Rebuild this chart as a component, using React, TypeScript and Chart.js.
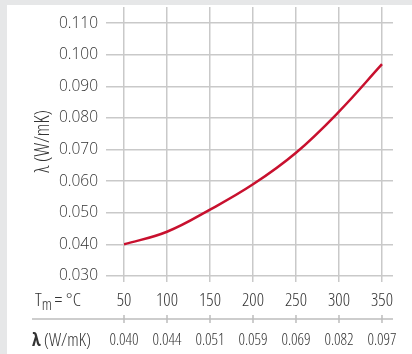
import React, { useEffect, useRef } from "react";
import { Chart, registerables } from "chart.js";

Chart.register(...registerables);

// ---- data ----
const temperatures = [50, 100, 150, 200, 250, 300, 350];
const lambdaValues = [0.04, 0.044, 0.051, 0.059, 0.069, 0.082, 0.097];
const yTicks = [0.03, 0.04, 0.05, 0.06, 0.07, 0.08, 0.09, 0.1, 0.11];
const yTitle = "λ (W/mK)";
const rowLabelTemp = "T";
const rowLabelTempSub = "m";
const rowLabelTempRest = " = °C";
const rowLabelLambdaSym = "λ";
const rowLabelLambdaRest = " (W/mK)";

const FAMILY = '"Open Sans", "Noto Sans", sans-serif';
const COND = "300 condensed"; // weight + stretch, placed into the font shorthand
const TEXT = "#333333";
const GRID = "#c9c9c9";

const X_TICK_LEN = 6;
const X_PAD = 8;
const X_FONT = 18;
const L_FONT = 16;
const L_PAD = 12;

const tablePlugin = {
  id: "tableRows",
  afterDraw(chart: any) {
    const { ctx, chartArea } = chart;
    const xs = chart.scales.x;
    const x2 = chart.scales.x2;
    ctx.save();
    // separator line between rows
    ctx.strokeStyle = "#bdbdbd";
    ctx.lineWidth = 1.5;
    ctx.beginPath();
    ctx.moveTo(25, x2.top);
    ctx.lineTo(chartArea.right, x2.top);
    temperatures.forEach((t) => {
      const px = xs.getPixelForValue(t);
      ctx.moveTo(px, x2.top - 4);
      ctx.lineTo(px, x2.top + 4);
    });
    ctx.stroke();

    // left row labels
    ctx.fillStyle = TEXT;
    ctx.textBaseline = "middle";
    ctx.textAlign = "left";
    const yT = xs.top + X_TICK_LEN + X_PAD + (X_FONT * 1.2) / 2;
    let cx = 28;
    ctx.font = `${COND} 19px ${FAMILY}`;
    ctx.fillText(rowLabelTemp, cx, yT);
    cx += ctx.measureText(rowLabelTemp).width;
    ctx.font = `${COND} 16px ${FAMILY}`;
    ctx.fillText(rowLabelTempSub, cx, yT + 5);
    cx += ctx.measureText(rowLabelTempSub).width - 1;
    ctx.font = `${COND} 19px ${FAMILY}`;
    ctx.fillText(rowLabelTempRest, cx, yT);

    const yL = x2.top + L_PAD + (L_FONT * 1.2) / 2;
    cx = 25;
    ctx.font = `bold condensed 18px ${FAMILY}`;
    ctx.fillText(rowLabelLambdaSym, cx, yL);
    cx += ctx.measureText(rowLabelLambdaSym).width;
    ctx.font = `${COND} 18px ${FAMILY}`;
    ctx.fillText(rowLabelLambdaRest, cx, yL);
    ctx.restore();
  },
};

export default function App() {
  const ref = useRef<HTMLCanvasElement>(null);
  useEffect(() => {
    if (!ref.current) return;
    const chart = new Chart(ref.current, {
      type: "line",
      data: {
        datasets: [
          {
            data: temperatures.map((t, i) => ({ x: t, y: lambdaValues[i] })),
            borderColor: "#c8102e",
            borderWidth: 2.5,
            pointRadius: 0,
            tension: 0.4,
            fill: false,
          },
        ],
      },
      options: {
        animation: false,
        responsive: false,
        maintainAspectRatio: false,
        layout: { padding: { left: 24, top: 2, right: 19, bottom: 0 } },
        plugins: { legend: { display: false }, tooltip: { enabled: false } },
        scales: {
          x: {
            type: "linear",
            position: "bottom",
            min: 50,
            max: 362.8,
            afterBuildTicks: (s: any) => {
              s.ticks = temperatures.map((v) => ({ value: v }));
            },
            afterFit: (s: any) => {
              s.height = 43;
              s.paddingLeft = 0;
              s.paddingRight = 0;
            },
            grid: { color: GRID, lineWidth: 1.5, tickLength: X_TICK_LEN, drawTicks: true },
            border: { display: false },
            ticks: {
              autoSkip: false,
              maxRotation: 0,
              padding: X_PAD,
              color: TEXT,
              font: { family: FAMILY, size: X_FONT, weight: COND },
              callback: (v: any) => String(v),
            },
          },
          x2: {
            type: "linear",
            position: "bottom",
            min: 50,
            max: 362.8,
            afterBuildTicks: (s: any) => {
              s.ticks = temperatures.map((v) => ({ value: v }));
            },
            afterFit: (s: any) => {
              s.height = 35;
              s.paddingLeft = 0;
              s.paddingRight = 0;
            },
            grid: { display: false, drawTicks: false },
            border: { display: false },
            ticks: {
              autoSkip: false,
              maxRotation: 0,
              padding: L_PAD,
              color: TEXT,
              font: { family: FAMILY, size: L_FONT, weight: COND },
              callback: (v: any) => {
                const i = temperatures.indexOf(Number(v));
                return i >= 0 ? lambdaValues[i].toFixed(3) : "";
              },
            },
          },
          y: {
            type: "linear",
            min: 0.03,
            max: 0.1151,
            afterBuildTicks: (s: any) => {
              s.ticks = yTicks.map((v) => ({ value: v }));
            },
            afterFit: (s: any) => {
              s.width = 93;
              s.paddingTop = 0;
              s.paddingBottom = 0;
            },
            grid: { color: GRID, lineWidth: 1.5, tickLength: 18 },
            border: { display: false },
            title: {
              display: true,
              text: yTitle,
              color: TEXT,
              padding: 0,
              font: { family: FAMILY, size: 20, weight: COND },
            },
            ticks: {
              padding: 8,
              color: TEXT,
              font: { family: FAMILY, size: 15.5, weight: "300" },
              callback: (v: any) => Number(v).toFixed(3),
            },
          },
        },
      } as any,
      plugins: [tablePlugin],
    });
    return () => chart.destroy();
  }, []);

  return (
    <div
      style={{
        position: "fixed",
        left: 0,
        top: 0,
        width: 412,
        height: 354,
        background: "#e6e7e8",
        overflow: "hidden",
      }}
    >
      <div
        style={{
          position: "absolute",
          left: 7,
          top: 5,
          width: 405,
          height: 349,
          background: "#ffffff",
        }}
      >
        <canvas ref={ref} width={405} height={349} style={{ display: "block" }} />
      </div>
    </div>
  );
}
